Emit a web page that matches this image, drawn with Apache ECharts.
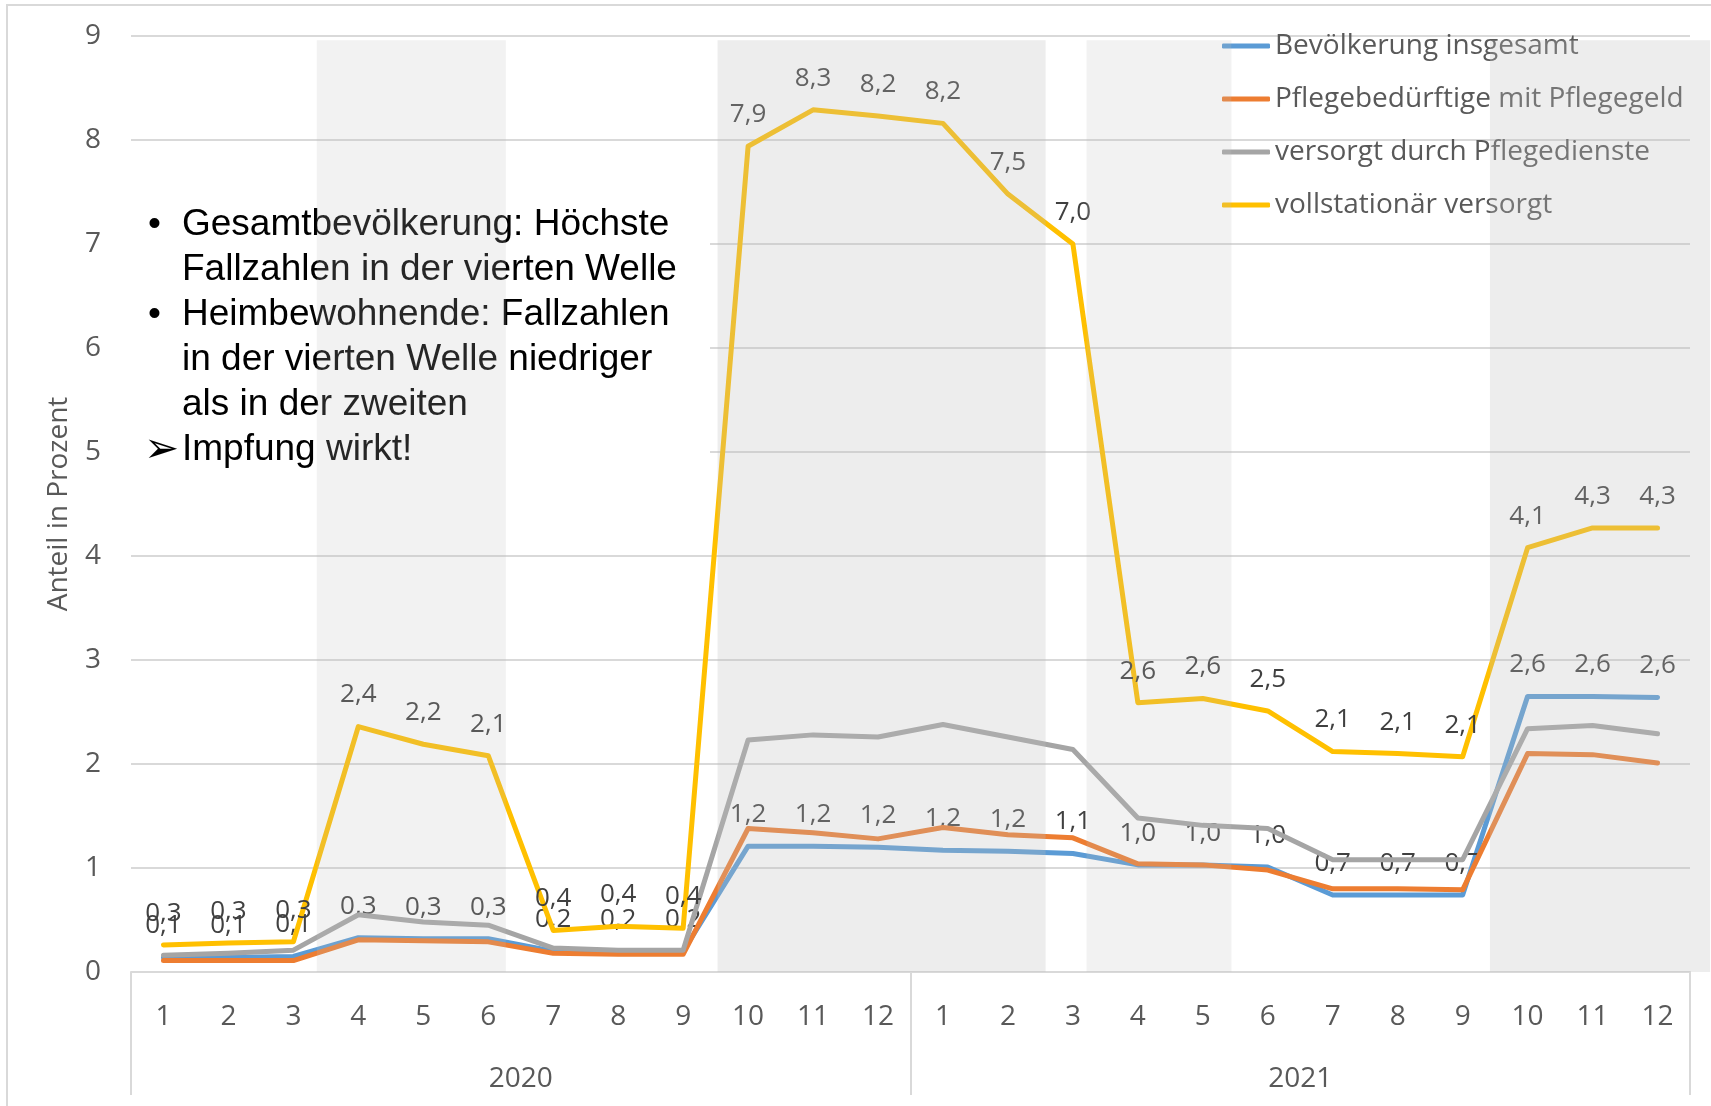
<!DOCTYPE html>
<html>
<head>
<meta charset="utf-8">
<script src="https://cdn.jsdelivr.net/npm/echarts@6/dist/echarts.min.js"></script>
<style>
    html, body { margin: 0; padding: 0; background: #fff; }
    #chart { width: 1711px; height: 1106px; }
</style>
</head>
<body>
<div id="chart"></div>
<script>
// Monate 2020 und 2021
var months = ['1','2','3','4','5','6','7','8','9','10','11','12',
              '1','2','3','4','5','6','7','8','9','10','11','12'];
var years = ['2020', '2021'];

// Anteil in Prozent
var bevoelkerung = [0.14, 0.14, 0.15, 0.33, 0.32, 0.32, 0.20, 0.20, 0.20, 1.21, 1.21, 1.20,
                    1.17, 1.16, 1.14, 1.03, 1.03, 1.01, 0.74, 0.74, 0.74, 2.65, 2.65, 2.64];
var pflegegeld   = [0.11, 0.11, 0.11, 0.31, 0.30, 0.29, 0.18, 0.17, 0.17, 1.38, 1.34, 1.28,
                    1.39, 1.32, 1.29, 1.04, 1.03, 0.98, 0.80, 0.80, 0.79, 2.10, 2.09, 2.01];
var pflegedienst = [0.16, 0.18, 0.21, 0.55, 0.48, 0.45, 0.23, 0.21, 0.21, 2.23, 2.28, 2.26,
                    2.38, 2.26, 2.14, 1.48, 1.41, 1.38, 1.08, 1.08, 1.08, 2.34, 2.37, 2.29];
var vollstationaer = [0.26, 0.28, 0.29, 2.36, 2.19, 2.08, 0.40, 0.44, 0.42, 7.94, 8.29, 8.23,
                      8.16, 7.48, 7.00, 2.59, 2.63, 2.51, 2.12, 2.10, 2.07, 4.08, 4.27, 4.27];

var seriesNames = ['Bevölkerung insgesamt', 'Pflegebedürftige mit Pflegegeld',
                   'versorgt durch Pflegedienste', 'vollstationär versorgt'];
var seriesColors = ['#5b9bd5', '#ed7d31', '#a5a5a5', '#ffc000'];

// Wellen (Schattierung): von, bis (in Monaten ab Achsenanfang), Höhe, Ton
var bands = [[2.86, 5.77, 8.96, 0], [9.03, 14.08, 8.96, 1], [14.71, 16.94, 8.96, 0], [20.92, 24.31, 8.96, 1]];
var bandFills = ['rgba(191,191,191,0.2)', 'rgba(191,191,191,0.28)'];

var noteLines = [
    ['•', 'Gesamtbevölkerung: Höchste'],
    ['', 'Fallzahlen in der vierten Welle'],
    ['•', 'Heimbewohnende: Fallzahlen'],
    ['', 'in der vierten Welle niedriger'],
    ['', 'als in der zweiten'],
    ['➢', 'Impfung wirkt!']
];

var axisFont = '"Open Sans", "Noto Sans", sans-serif';
var gray = '#595959';

function fmt(v) {
    return v.toFixed(1).replace('.', ',');
}

function lineSeries(i, data, withLabel) {
    return {
        name: seriesNames[i],
        type: 'line',
        data: data,
        xAxisIndex: 0,
        yAxisIndex: 0,
        z: 2 + i * 0.1,
        symbol: 'circle',
        symbolSize: 1,
        showSymbol: true,
        lineStyle: { color: seriesColors[i], width: 5, cap: 'round', join: 'round' },
        itemStyle: { color: seriesColors[i] },
        label: {
            show: withLabel,
            position: 'top',
            distance: 18,
            color: '#404040',
            fontFamily: axisFont,
            fontSize: 26,
            formatter: function (p) { return fmt(p.value); }
        },
        emphasis: { disabled: true },
        animation: false
    };
}

function renderBand(params, api) {
    var p0 = api.coord([api.value(0), api.value(2)]);
    var p1 = api.coord([api.value(1), 0]);
    return {
        type: 'rect',
        shape: { x: p0[0], y: p0[1], width: p1[0] - p0[0], height: p1[1] - p0[1] },
        style: { fill: bandFills[api.value(3)] }
    };
}

var graphics = [
    { type: 'rect', z: 0, silent: true,
      shape: { x: 7, y: 5, width: 1740, height: 1140 },
      style: { fill: null, stroke: '#d9d9d9', lineWidth: 2 } },
    { type: 'rect', z: 1, silent: true,
      shape: { x: 120, y: 165, width: 590, height: 330 },
      style: { fill: '#ffffff' } }
];
noteLines.forEach(function (l, i) {
    var y = 225 + i * 45;
    if (l[0]) {
        var isArrow = l[0] === '➢';
        graphics.push({ type: 'text', z: 1, silent: true, x: isArrow ? 144 : 148, y: isArrow ? y + 1 : y,
            style: { text: l[0], fill: '#000', font: (isArrow ? '42px "DejaVu Sans"' : '37px "Liberation Sans", Arial'),
                     textVerticalAlign: 'middle' } });
    }
    graphics.push({ type: 'text', z: 1, silent: true, x: 182, y: y,
        style: { text: l[1], fill: '#000', font: '37px "Liberation Sans", Arial', textVerticalAlign: 'middle' } });
});

var option = {
    animation: false,
    backgroundColor: '#ffffff',
    grid: { left: 131, right: 21, top: 36, bottom: 134 },
    legend: {
        data: seriesNames,
        orient: 'vertical',
        left: 1222,
        top: 31,
        padding: 0,
        itemGap: 23,
        itemWidth: 48,
        itemHeight: 5,
        icon: 'roundRect',
        textStyle: { color: gray, fontFamily: axisFont, fontSize: 28, lineHeight: 30 },
        selectedMode: false
    },
    xAxis: [{
        type: 'category',
        data: months,
        position: 'bottom',
        axisLine: { show: true, lineStyle: { color: '#d9d9d9', width: 2 } },
        axisTick: { show: false },
        axisLabel: { color: gray, fontFamily: axisFont, fontSize: 28, margin: 31, interval: 0 },
        splitLine: { show: false }
    }, {
        type: 'category',
        data: years,
        position: 'bottom',
        axisLine: { show: false },
        axisTick: { show: true, length: 123, interval: 0, lineStyle: { color: '#d9d9d9', width: 2 } },
        axisLabel: { color: gray, fontFamily: axisFont, fontSize: 28, margin: 93, interval: 0 },
        splitLine: { show: false }
    }, {
        type: 'value',
        show: false,
        min: 0,
        max: 24
    }],
    yAxis: {
        type: 'value',
        min: 0,
        max: 9,
        interval: 1,
        name: 'Anteil in Prozent',
        nameLocation: 'middle',
        nameRotate: 90,
        nameGap: 58,
        nameTextStyle: { color: gray, fontFamily: axisFont, fontSize: 28 },
        axisLine: { show: false },
        axisTick: { show: false },
        axisLabel: { color: gray, fontFamily: axisFont, fontSize: 28, margin: 30, padding: [12, 0, 0, 0] },
        splitLine: { lineStyle: { color: '#d9d9d9', width: 2 } }
    },
    graphic: graphics,
    series: [
        lineSeries(0, bevoelkerung, true),
        lineSeries(1, pflegegeld, false),
        lineSeries(2, pflegedienst, false),
        lineSeries(3, vollstationaer, true),
        {
            type: 'custom',
            name: 'Wellen',
            xAxisIndex: 2,
            yAxisIndex: 0,
            z: 10,
            clip: false,
            silent: true,
            renderItem: renderBand,
            data: bands
        }
    ]
};

echarts.init(document.getElementById('chart')).setOption(option);
</script>
</body>
</html>
